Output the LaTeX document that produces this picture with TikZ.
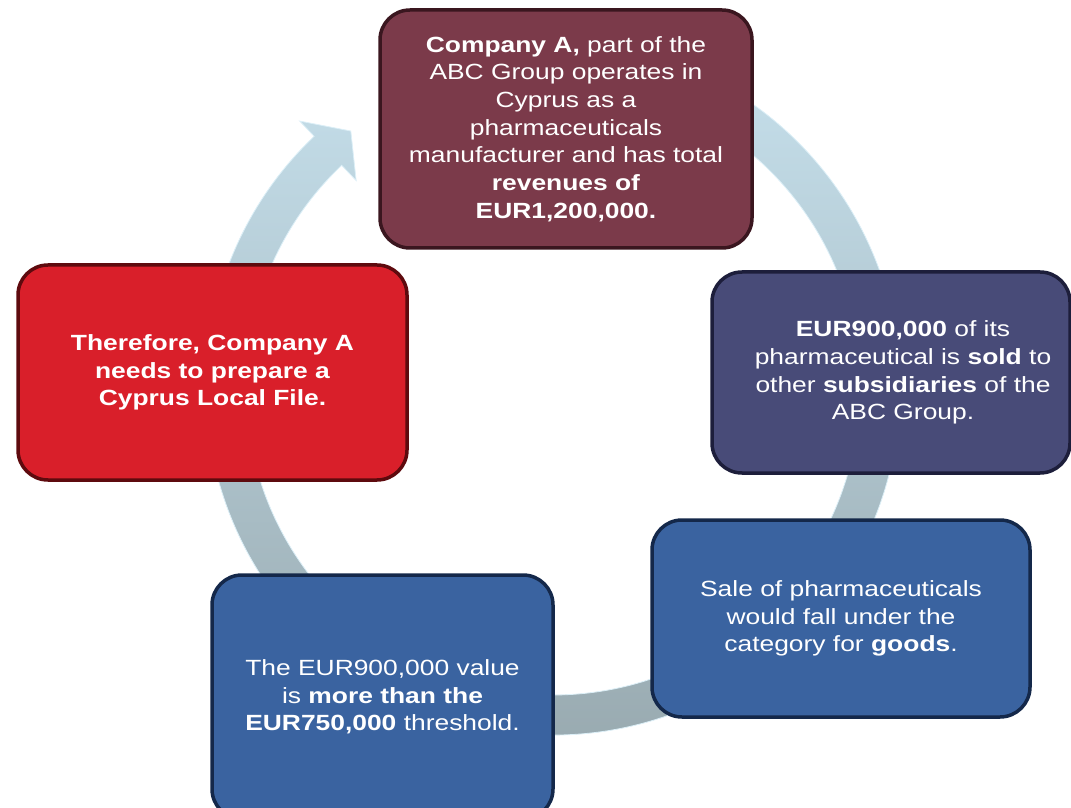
\documentclass[tikz,border=0pt]{standalone}
\usepackage{fontspec}
\setmainfont{Liberation Sans}[FakeStretch=1.2]
\usepackage{tikz}
\usetikzlibrary{positioning}
\definecolor{cyMaroon}{HTML}{7B3A4A}
\definecolor{cyMaroonDk}{HTML}{3A161F}
\definecolor{cySlate}{HTML}{484B78}
\definecolor{cySlateDk}{HTML}{1D1E3B}
\definecolor{cyBlue}{HTML}{3A63A0}
\definecolor{cyBlueDk}{HTML}{14284A}
\definecolor{cyRed}{HTML}{D91F2A}
\definecolor{cyRedDk}{HTML}{5E0A0E}
\definecolor{cyRingTop}{HTML}{C6E0EC}
\definecolor{cyRingBot}{HTML}{98A9AF}
\definecolor{cyRingEdge}{HTML}{DCEFF7}

\begin{document}
\begin{tikzpicture}[x=1pt,y=1pt,
 panel/.style={rectangle,rounded corners=30pt,line width=3.5pt,inner sep=0pt,
   text=white,align=center,font=\fontsize{22}{27.7}\selectfont},
 paneltext/.style={text=white,align=center,inner sep=0pt,font=\fontsize{22}{27.7}\selectfont},
 maroon/.style={panel,draw=cyMaroonDk,fill=cyMaroon},
 slate/.style={panel,draw=cySlateDk,fill=cySlate},
 blue/.style={panel,draw=cyBlueDk,fill=cyBlue},
 alert/.style={panel,draw=cyRedDk,fill=cyRed},
 ring/.style={top color=cyRingTop,bottom color=cyRingBot,draw=cyRingEdge,line width=0.8pt}]
\useasboundingbox (0,0) rectangle (1071,807);
\clip (0,0) rectangle (1071,807);
% circular arrow behind the panels
\begin{scope}[shift={(553,419)}]
\path[ring] (80:347) arc[start angle=80,end angle=-226.5,radius=347]
  -- (-226.5:368) -- (-231.8:327) -- (-226.5:286) -- (-226.5:307)
  arc[start angle=-226.5,end angle=80,radius=307] -- cycle;
\end{scope}
\node[maroon,minimum width=372pt,minimum height=238pt] (company) at (566,678)
  {\textbf{Company A,} part of the\\ABC Group operates in\\Cyprus as a\\pharmaceuticals\\
   manufacturer and has total\\\textbf{revenues of}\\\textbf{EUR1,200,000.}};
\node[slate,minimum width=358pt,minimum height=201pt] (sold) at (891,434.5) {};
\node[paneltext] (soldText) at ([xshift=12pt]sold.center)
  {\textbf{EUR900,000} of its\\pharmaceutical is \textbf{sold} to\\
   other \textbf{subsidiaries} of the\\ABC Group.};
\node[blue,minimum width=378pt,minimum height=197pt] (goods) at (841,188.5)
  {Sale of pharmaceuticals\\would fall under the\\category for \textbf{goods}.};
\node[blue,minimum width=341pt,minimum height=244pt] (threshold) at (382.5,110)
  {The EUR900,000 value\\is \textbf{more than the}\\\textbf{EUR750,000} threshold.};
\node[alert,minimum width=389pt,minimum height=215pt] (localfile) at (212.5,434.5)
  {\textbf{Therefore, Company A}\\\textbf{needs to prepare a}\\\textbf{Cyprus Local File.}};
\end{tikzpicture}
\end{document}
